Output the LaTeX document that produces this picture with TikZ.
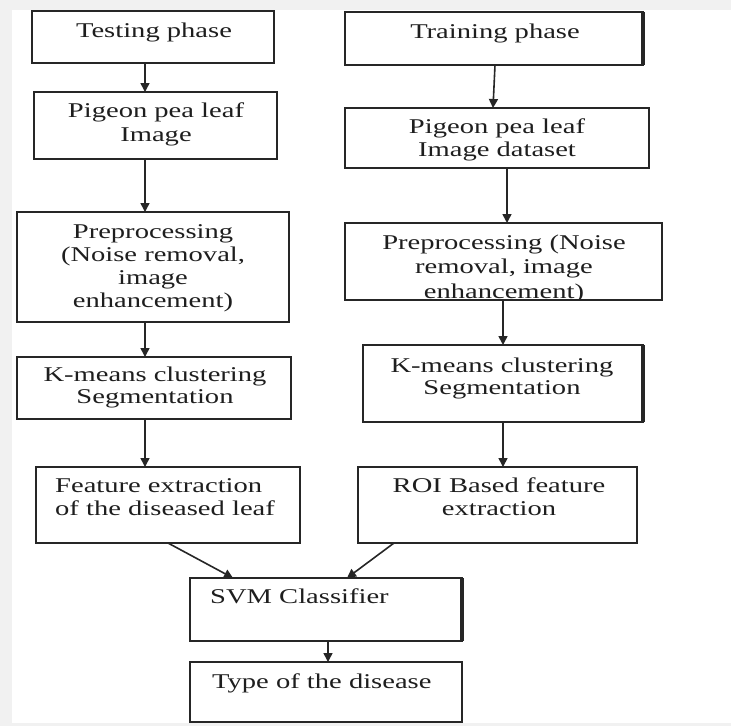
\documentclass[tikz,border=0pt]{standalone}
\usepackage{fontspec}
\setmainfont{Liberation Serif}[FakeStretch=1.36]
\usetikzlibrary{arrows.meta}
\definecolor{ln}{HTML}{262626}
\definecolor{tx}{HTML}{1E1E1E}
\definecolor{bg}{HTML}{F1F1F1}
\tikzset{
 boxst/.style={draw=ln, line width=1.8pt, rectangle, anchor=north west, inner sep=0pt, outer sep=0pt},
 txt/.style={font=\fontsize{21}{23}\selectfont, text=tx, inner sep=0pt, anchor=base},
 txtl/.style={txt, anchor=base west},
 arr/.style={draw=ln, line width=1.6pt, -{Triangle[length=9pt,width=9pt]}},
 thickedge/.style={draw=ln, line width=3.2pt},
}
\begin{document}
\begin{tikzpicture}[x=1pt,y=-1pt]
\useasboundingbox (0,0) rectangle (731,726);
\fill[white] (0,0) rectangle (731,726);
\fill[bg] (0,0) rectangle (731,10);
\fill[bg] (0,0) rectangle (12,726);
\fill[bg] (0,723) rectangle (731,726);

% boxes
\node[boxst, minimum width=242pt, minimum height=52pt] (test)  at (32,11)  {};
\node[boxst, minimum width=298pt, minimum height=53pt] (train) at (345,12) {};
\node[boxst, minimum width=243pt, minimum height=67pt] (img)   at (34,92)  {};
\node[boxst, minimum width=304pt, minimum height=60pt] (data)  at (345,108) {};
\node[boxst, minimum width=272pt, minimum height=110pt] (preL) at (17,212) {};
\node[boxst, minimum width=317pt, minimum height=77pt] (preR)  at (345,223) {};
\node[boxst, minimum width=274pt, minimum height=62pt] (kmL)   at (17,357) {};
\node[boxst, minimum width=280pt, minimum height=77pt] (kmR)   at (363,345) {};
\node[boxst, minimum width=264pt, minimum height=76pt] (featL) at (36,467) {};
\node[boxst, minimum width=279pt, minimum height=76pt] (roi)   at (358,467) {};
\node[boxst, minimum width=272pt, minimum height=63pt] (svm)   at (190,578) {};
\node[boxst, minimum width=272pt, minimum height=60pt] (type)  at (190,662) {};

\draw[thickedge] (train.north east) -- (train.south east);
\draw[thickedge] (kmR.north east) -- (kmR.south east);
\draw[thickedge] (svm.north east) -- (svm.south east);

% texts
\node[txt] (ttest) at (154,37) {Testing phase};
\node[txt] (ttrain) at (495,38) {Training phase};
\node[txt] (timg1) at (156,117) {Pigeon pea leaf};
\node[txt] (timg2) at (156,141) {Image};
\node[txt] (tdata1) at (497,133) {Pigeon pea leaf};
\node[txt] (tdata2) at (497,156) {Image dataset};
\node[txt] (tpreL1) at (153,238) {Preprocessing};
\node[txt] (tpreL2) at (153,261) {(Noise removal,};
\node[txt] (tpreL3) at (153,284) {image};
\node[txt] (tpreL4) at (153,307) {enhancement)};
\node[txt] (tpreR1) at (504,249) {Preprocessing (Noise};
\node[txt] (tpreR2) at (504,273) {removal, image};
\begin{scope}
\clip (preR.north west) rectangle ([yshift=1.5pt]preR.south east);
\node[txt] (tpreR3) at (504,298) {enhancement)};
\end{scope}
\node[txt] (tkmL1) at (155,381) {K-means clustering};
\node[txt] (tkmL2) at (155,403) {Segmentation};
\node[txt] (tkmR1) at (502,372) {K-means clustering};
\node[txt] (tkmR2) at (502,394) {Segmentation};
\node[txtl] (tfeat1) at (55,492) {Feature extraction};
\node[txtl] (tfeat2) at (55,515) {of the diseased leaf};
\node[txt] (troi1) at (499,492) {ROI Based feature};
\node[txt] (troi2) at (499,515) {extraction};
\node[txtl] (tsvm) at (210,603) {SVM Classifier};
\node[txtl] (ttype) at (212,688) {Type of the disease};

% arrows
\draw[arr] ([xshift=-8pt]test.south) -- ([xshift=-10.5pt]img.north);
\draw[arr] ([xshift=1pt]train.south) -- ([xshift=-4pt]data.north);
\draw[arr] ([xshift=-10.5pt]img.south) -- ([xshift=-8pt]preL.north);
\draw[arr] ([xshift=10pt]data.south) -- ([xshift=3.5pt]preR.north);
\draw[arr] ([xshift=-8pt]preL.south) -- ([xshift=-9pt]kmL.north);
\draw[arr] ([xshift=-0.5pt]preR.south) -- (kmR.north);
\draw[arr] ([xshift=-9pt]kmL.south) -- ([xshift=-23pt]featL.north);
\draw[arr] (kmR.south) -- ([xshift=5.5pt]roi.north);
\draw[arr] (featL.south) -- ([xshift=-93pt]svm.north);
\draw[arr] ([xshift=-103.5pt]roi.south) -- ([xshift=21pt]svm.north);
\draw[arr] ([xshift=2pt]svm.south) -- ([xshift=2pt]type.north);
\end{tikzpicture}
\end{document}
